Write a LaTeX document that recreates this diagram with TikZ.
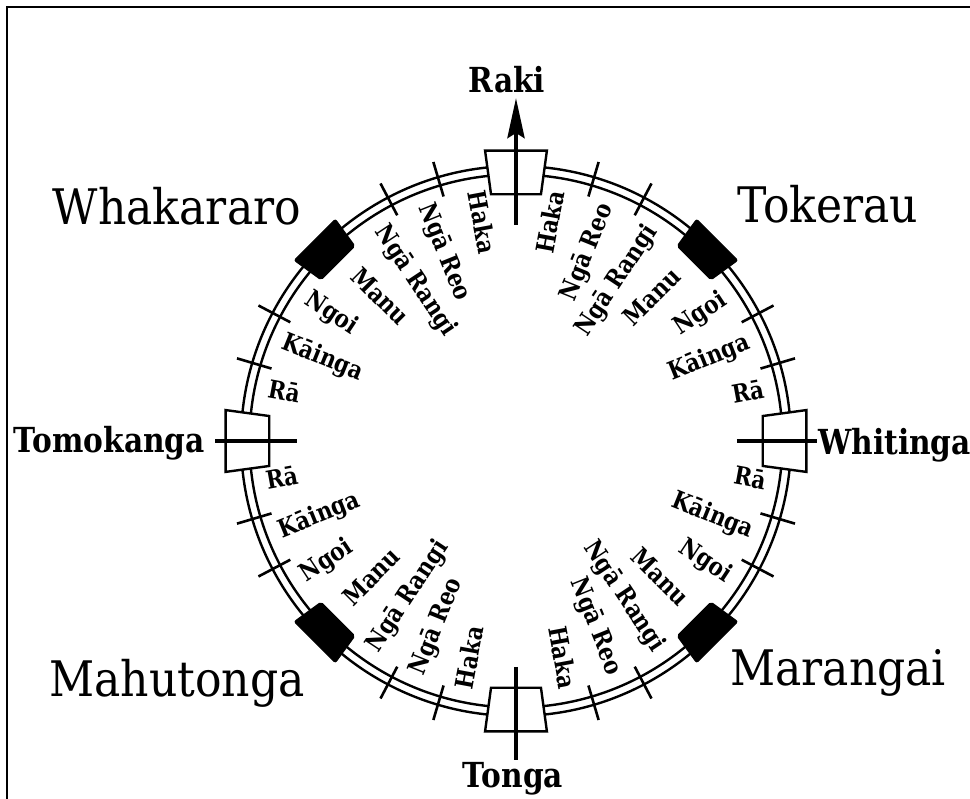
\documentclass[tikz,border=0pt]{standalone}
\usepackage{fontspec}
\setmainfont{DejaVu Serif}
\newfontfamily\namefont[FakeStretch=0.9]{DejaVu Serif}
\newfontfamily\labfont[FakeStretch=0.86]{DejaVu Serif}
\usetikzlibrary{arrows.meta}
\begin{document}
\begin{tikzpicture}[x=1pt,y=1pt,
  ringline/.style={line width=2.4pt},
  tickmark/.style={line width=2.6pt},
  whitebox/.style={line width=2.4pt, fill=white, draw=black},
  blackbox/.style={fill=black, draw=black, line width=1pt, rounded corners=2pt},
  axisline/.style={line width=4.5pt},
  lab/.style={font=\labfont\bfseries\fontsize{25pt}{27pt}\selectfont, inner sep=0pt, text height=0.72em, text depth=0.2em},
  bigname/.style={font=\namefont\fontsize{49pt}{52pt}\selectfont, inner sep=0pt},
  dirname/.style={font=\labfont\bfseries\fontsize{34.5pt}{37pt}\selectfont, inner sep=0pt}]

\useasboundingbox (-516,-358) rectangle (454,441);
\draw[line width=2pt] (-509,-358) -- (-509,434) -- (454,434);

\coordinate (C) at (0,0);
\draw[ringline] (C) circle (275);
\draw[ringline] (C) circle (266.5);

% tick marks
\foreach \q in {0,90,180,270}{
  \foreach \d in {16.5,27.75,62.25,73.5}{
    \draw[tickmark] ({\q+\d}:255) -- ({\q+\d}:291);
  }
}

% black boxes
\foreach \t in {45,135,225,315}{
  \draw[blackbox] ({\t-5.43}:253) -- ({\t+5.43}:253) -- ({\t+5.83}:286) -- ({\t-5.83}:286) -- cycle;
}
% white boxes
\foreach \t in {0,90,180,270}{
  \draw[whitebox] ({\t-5.78}:248) -- ({\t+5.78}:248) -- ({\t+6.08}:292) -- ({\t-6.08}:292) -- cycle;
}

% axis lines
\coordinate (rakiA) at (90:216);  \coordinate (rakiB) at (90:343);
\coordinate (tongaA) at (270:226); \coordinate (tongaB) at (270:319);
\coordinate (tomoA) at (180:219);  \coordinate (tomoB) at (180:301);
\coordinate (whitA) at (0:221);    \coordinate (whitB) at (0:301);
\draw[axisline,-{Stealth[length=40pt,width=17pt,inset=5pt]}] (rakiA) -- (rakiB);
\draw[axisline] (tongaA) -- (tongaB);
\draw[axisline] (tomoA) -- (tomoB);
\draw[axisline] (whitA) -- (whitB);

% direction names
\node[dirname, anchor=base] (raki) at (-9,348) {Raki};
\node[dirname, anchor=base] (tonga) at (-3,-347) {Tonga};
\node[dirname, anchor=base east] (tomokanga) at (-311,-12) {Tomokanga};
\node[dirname, anchor=base west] (whitinga) at (302,-14) {Whitinga};

% wind names
\node[bigname, anchor=base] (whakararo) at (-339,216) {Whakararo};
\node[bigname, anchor=base west] (tokerau) at (221,218) {Tokerau};
\node[bigname, anchor=base east] (mahutonga) at (-211,-256) {Mahutonga};
\node[bigname, anchor=base west] (marangai) at (214,-245) {Marangai};

% radial labels, right half
\foreach \a/\r/\t [count=\i] in {79.5/253/Haka, 68/253/Ngā Reo, 56.5/253/Ngā Rangi, 45/233/Manu, 33.5/253/Ngoi, 22/253/Kāinga, 10.5/253/Rā,
  -79.5/253/Haka, -68/253/Ngā Reo, -56.5/253/Ngā Rangi, -45/233/Manu, -33.5/253/Ngoi, -22/253/Kāinga, -10.5/253/Rā}{
  \node[lab, rotate=\a, anchor=east] (R\i) at (\a:\r) {\t};
}
% radial labels, left half
\foreach \a/\r/\t [count=\i] in {100.5/253/Haka, 112/253/Ngā Reo, 123.5/253/Ngā Rangi, 135/233/Manu, 146.5/253/Ngoi, 158/253/Kāinga, 169.5/253/Rā,
  259.5/253/Haka, 248/253/Ngā Reo, 236.5/253/Ngā Rangi, 225/233/Manu, 213.5/253/Ngoi, 202/253/Kāinga, 190.5/253/Rā}{
  \node[lab, rotate=\a-180, anchor=west] (L\i) at (\a:\r) {\t};
}
\end{tikzpicture}
\end{document}
